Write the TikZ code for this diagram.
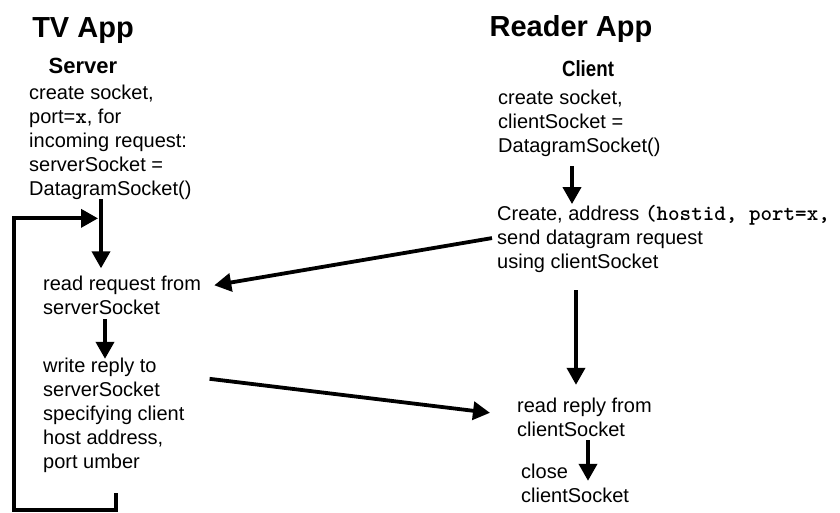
\documentclass[tikz,border=0pt]{standalone}
\usepackage{fontspec}
\setmainfont{Liberation Sans}
\usetikzlibrary{arrows.meta,calc}

% slab-serif typewriter for code fragments
\newcommand{\code}[1]{{\fontsize{22}{24}\selectfont\ttfamily\bfseries #1}}

\begin{document}
\begin{tikzpicture}[x=1pt,y=-1pt,
  % multi-line blocks are placed by the baseline of their last line
  steptext/.style={anchor=base west, align=left, inner sep=0pt,
    font=\fontsize{20}{24}\selectfont},
  apptitle/.style={anchor=base, inner sep=0pt,
    font=\fontsize{29}{32}\selectfont\bfseries},
  roletitle/.style={anchor=base, inner sep=0pt,
    font=\fontsize{22}{26}\selectfont\bfseries},
  flow/.style={line width=3.8pt, -{Triangle[length=17pt,width=18pt]}},
  ]
\useasboundingbox (0,0) rectangle (840,512);

% ---- server side ----
\node[apptitle]  (tvapp)  at (83,37) {TV App};
\node[roletitle] (server) at (83,73) {Server};
\node[steptext]  (srv) at (29,195)
  {create socket,\\ port=\code{x}, for\\ incoming request:\\
   serverSocket =\\ DatagramSocket()};
\node[steptext]  (rq) at (43,314) {read request from\\ serverSocket};
\node[steptext]  (wr) at (43,468)
  {write reply to\\ serverSocket\\ specifying client\\ host address,\\ port umber};

% ---- client side ----
\node[apptitle]  (rdapp)  at (571,36) {Reader App};
\node[roletitle] (client) at (588,76) {\scalebox{0.85}[1]{Client}};
\node[steptext]  (cs) at (498,152)
  {create socket,\\ clientSocket =\\ DatagramSocket()};
\node[steptext]  (snd) at (497,268)
  {Create, address \code{(hostid, port=x,}\\
   send datagram request\\ using clientSocket};
\node[steptext]  (rr) at (517,436) {read reply from\\ clientSocket};
\node[steptext]  (cl) at (521,502) {close\\ clientSocket};

% ---- connectors ----
\coordinate (join) at ($(srv.south west)+(72,19)$);
\draw[flow] ($(srv.south west)+(72,0)$) -- ($(rq.north west)+(58,-7)$);
\draw[flow] ($(rq.south west)+(62,5)$) -- ($(wr.north west)+(62,1.5)$);
\draw[flow] ($(wr.south west)+(73,21)$) -- ++(0,17) -- ++(-102,0)
  |- ($(join)+(-3,0)$);

\draw[flow] ($(cs.south west)+(74,10)$) -- ($(snd.north west)+(75,-0.5)$);
\draw[flow] ($(snd.south west)+(79,18)$) -- ($(rr.north west)+(59,-12.5)$);
\draw[flow] ($(rr.south west)+(71,4)$) -- ($(cl.north west)+(67,17.5)$);

% ---- datagram exchange ----
\draw[flow] ($(snd.north west)+(-5,33.5)$) -- ($(rq.north east)+(13,10)$);
\draw[flow] ($(wr.north east)+(25,21.5)$) -- ($(rr.north west)+(-27,15.5)$);
\end{tikzpicture}
\end{document}
